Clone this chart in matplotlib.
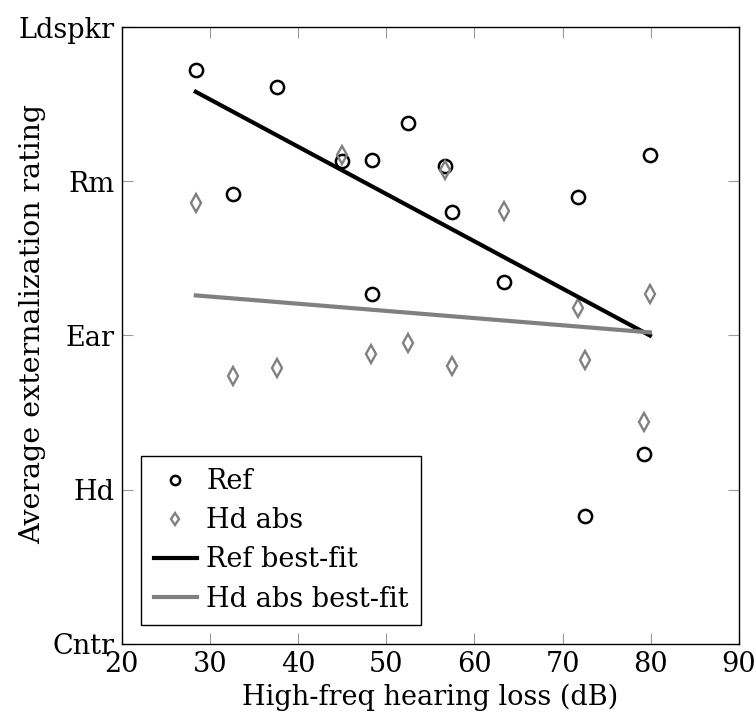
import numpy as np
import matplotlib
matplotlib.use("Agg")
from matplotlib import pyplot as plt

plt.rcParams['font.family'] = ['DejaVu Serif']

# Ref ratings (circles)
ref_x = [28.4, 32.6, 37.6, 45.0, 48.4, 48.4, 52.5, 56.7, 57.5, 63.3, 71.7, 72.5, 79.2, 79.9]
ref_y = [3.72, 2.92, 3.61, 3.13, 3.14, 2.27, 3.38, 3.10, 2.80, 2.35, 2.90, 0.83, 1.23, 3.17]

# Hd abs ratings (diamonds)
hd_x = [28.4, 32.6, 37.6, 45.0, 48.3, 52.5, 56.7, 57.5, 63.3, 71.7, 72.5, 79.2, 79.9]
hd_y = [2.86, 1.74, 1.79, 3.17, 1.88, 1.95, 3.07, 1.80, 2.81, 2.18, 1.84, 1.44, 2.27]

# best-fit lines (end points)
fit_x = [28.4, 79.9]
ref_fit_y = [3.58, 2.00]
hd_fit_y = [2.26, 2.02]

yticks = [0, 1, 2, 3, 4]
ytick_labels = ['Cntr', 'Hd', 'Ear', 'Rm', 'Ldspkr']
xticks = np.arange(20, 91, 10)

fs = 19.5

fig = plt.figure(figsize=(7.56, 7.26), dpi=100)
ax = fig.add_axes([0.161, 0.113, 0.8165, 0.8498])

ax.plot(ref_x, ref_y, ls='none', marker='o', ms=9.5, mfc='none',
        mec='black', mew=1.8, label='Ref')
ax.plot(hd_x, hd_y, ls='none', marker='d', ms=9, mfc='none',
        mec='#808080', mew=1.7, label='Hd abs')
ax.plot(fit_x, ref_fit_y, c='black', lw=3, label='Ref best-fit')
ax.plot(fit_x, hd_fit_y, c='#808080', lw=3, label='Hd abs best-fit')

ax.set_xlim([20, 90])
ax.set_ylim([0, 4])
ax.set_xticks(xticks)
ax.set_xticklabels(xticks)
ax.set_yticks(yticks)
ax.set_yticklabels(ytick_labels)

ax.tick_params(direction='in', length=8, width=0.8, color='#999999',
               top=True, right=True, labelsize=fs, pad=5)
for s in ax.spines.values():
    s.set_linewidth(1.0)

ax.set_xlabel("High-freq hearing loss (dB)", fontsize=fs, labelpad=4)
ax.set_ylabel("Average externalization rating", fontsize=20.5)
ax.yaxis.set_label_coords(-0.122, 0.519)

leg = ax.legend(loc='lower left', bbox_to_anchor=(0.032, 0.031),
                borderaxespad=0, fontsize=fs, fancybox=False,
                edgecolor='black', framealpha=1, handlelength=1.6,
                handletextpad=0.35, labelspacing=0.45, borderpad=0.45,
                markerscale=0.7)
leg.get_frame().set_linewidth(1.0)

plt.savefig('out.png', dpi=100)
plt.close()
